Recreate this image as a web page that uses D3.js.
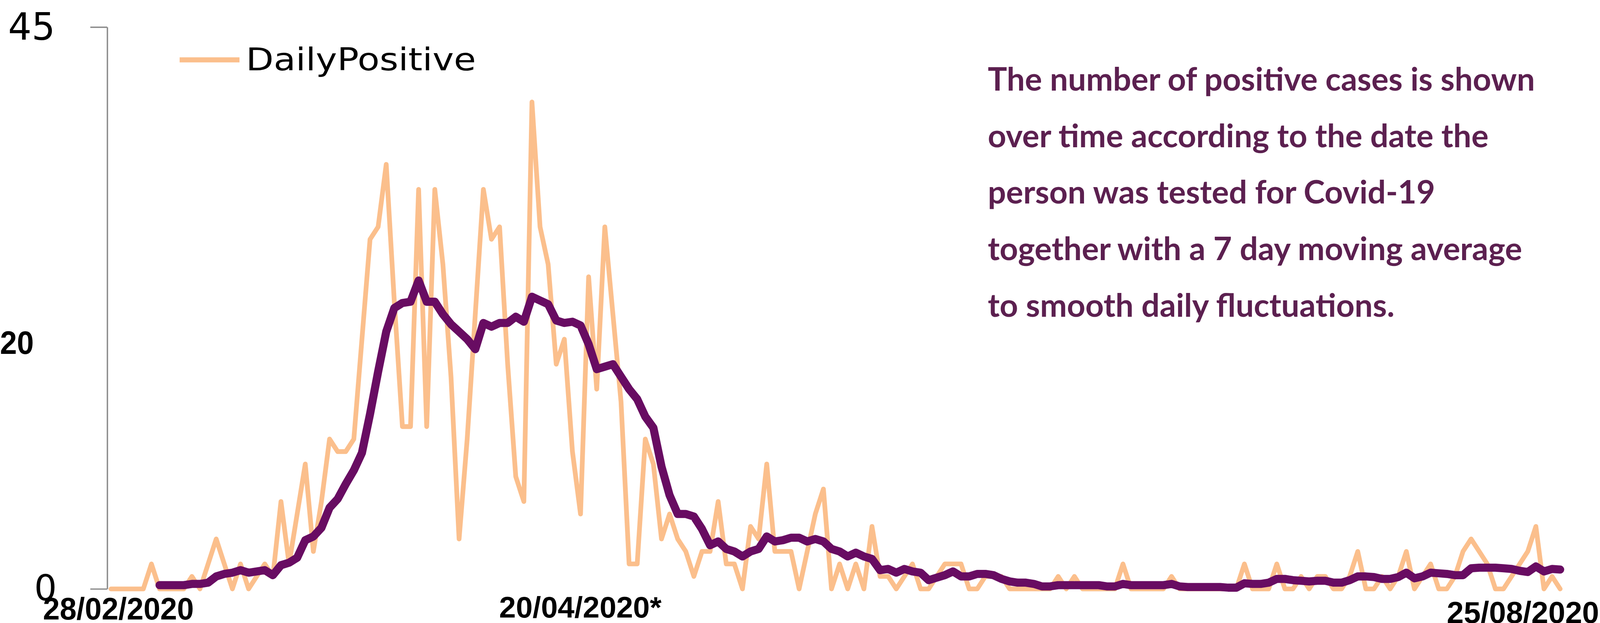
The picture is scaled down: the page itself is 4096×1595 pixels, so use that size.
<!DOCTYPE html>
<html><head><meta charset="utf-8">
<script src="https://cdn.jsdelivr.net/npm/d3@7"></script>
<style>html,body{margin:0;padding:0;background:#fff;overflow:hidden}</style>
</head><body>
<svg id="chart" width="4096" height="1595"></svg>
<script>
// ---- data ----
const startDate = "2020-02-28";
const endDate = "2020-08-25";
const dailyPositive = [
  0,0,0,0,0,2,0,0,0,0,
  1,0,2,4,2,0,2,0,1,2,
  1,7,2,6,10,3,7,12,11,11,
  12,20,28,29,34,23,13,13,32,13,
  32,26,17,4,12,22,32,28,29,18,
  9,7,39,29,26,18,20,11,6,25,
  16,29,22,15,2,2,12,10,4,6,
  4,3,1,3,3,7,2,2,0,5,
  4,10,3,3,3,0,3,6,8,0,
  2,0,2,0,5,1,1,0,1,2,
  0,0,1,2,2,2,0,0,1,1,
  1,0,0,0,0,0,0,1,0,1,
  0,0,0,0,0,2,0,0,0,0,
  0,1,0,0,0,0,0,0,0,0,
  2,0,0,0,2,0,0,1,0,1,
  1,0,0,1,3,0,0,1,0,1,
  3,0,1,2,0,0,1,3,4,3,
  2,0,0,1,2,3,5,0,1,0,
  0
];
const movingAvgStartIndex = 6;
const movingAverage7 = [
  0.3,0.3,0.3,0.3,
  0.4,0.4,0.5,1.0,1.2,1.3,1.5,1.3,1.4,1.5,
  1.1,1.9,2.1,2.5,3.9,4.2,4.9,6.5,7.2,8.4,
  9.5,10.9,14.0,17.4,20.6,22.5,22.9,23.0,24.7,23.0,
  23.0,22.0,21.2,20.6,20.0,19.2,21.3,21.0,21.3,21.3,
  21.8,21.4,23.4,23.1,22.8,21.5,21.3,21.4,21.1,19.6,
  17.6,17.8,18.0,17.0,16.0,15.2,13.8,12.9,9.8,7.5,
  6.0,6.0,5.8,4.8,3.5,3.8,3.2,3.0,2.6,3.0,
  3.2,4.2,3.8,3.9,4.1,4.1,3.8,4.0,3.8,3.2,
  3.0,2.6,2.9,2.6,2.4,1.5,1.6,1.3,1.6,1.4,
  1.3,0.7,0.9,1.1,1.4,1.0,1.0,1.2,1.2,1.1,
  0.8,0.6,0.5,0.5,0.4,0.2,0.2,0.3,0.3,0.3,
  0.3,0.3,0.3,0.2,0.2,0.4,0.3,0.3,0.3,0.3,
  0.3,0.4,0.2,0.15,0.15,0.15,0.15,0.15,0.1,0.1,
  0.45,0.4,0.4,0.5,0.8,0.8,0.7,0.65,0.6,0.65,
  0.65,0.5,0.5,0.7,1.0,1.0,0.95,0.8,0.8,0.95,
  1.3,0.85,1.0,1.3,1.25,1.2,1.1,1.1,1.65,1.7,
  1.7,1.7,1.65,1.6,1.45,1.35,1.8,1.4,1.6,1.55,
  1.5
];
const yTickValues = [0, 45];
const yLabelValues = [45, 20, 0];
const xLabelDates = ["2020-02-28", "2020-04-20", "2020-08-25"];
const xLabelTexts = ["28/02/2020", "20/04/2020*", "25/08/2020"];
const legendLabel = "DailyPositive";
const noteLines = [
  "The number of positive cases is shown",
  "over time according to the date the",
  "person was tested for Covid-19",
  "together with a 7 day moving average",
  "to smooth daily fluctuations."
];

// ---- layout (reference pixel space, scaled to window) ----
const K = 0.866;
const ORANGE = "#FBBF8C", PURPLE = "#680C62", NOTE = "#5C2050", AXIS = "#8a8a8a";
const svg = d3.select("#chart");
svg.append("rect").attr("width", 4096).attr("height", 1595).attr("fill", "#fff");
const g = svg.append("g").attr("transform", `scale(${K})`);

const parse = d3.utcParse("%Y-%m-%d");
const dates = d3.utcDay.range(parse(startDate), d3.utcDay.offset(parse(endDate), 1));
const x = d3.scaleUtc().domain([parse(startDate), parse(endDate)]).range([328, 4612]);
const y = d3.scaleLinear().domain([0, 45]).range([1741, 80]);

// axis
const ax = g.append("g").attr("transform", "translate(317,0)")
  .call(d3.axisLeft(y).tickValues(yTickValues).tickSize(50).tickSizeOuter(0).tickFormat(""));
ax.select(".domain").attr("stroke", AXIS).attr("stroke-width", 4);
ax.selectAll(".tick line").attr("stroke", AXIS).attr("stroke-width", 4);

// y labels (custom styling as in reference)
const yLab = {
  45: {x: 163, anchor: "end", dy: 38, font: "DejaVu Sans", weight: 400, size: 111, len: 139},
  20: {x: 0, anchor: "start", dy: 44, font: "Liberation Sans", weight: 700, size: 97, len: 100},
  0:  {x: 101, anchor: "start", dy: 34, font: "DejaVu Sans", weight: 400, size: 105, len: 67}
};
yLabelValues.forEach(v => {
  const s = yLab[v];
  g.append("text").text(String(v))
    .attr("x", s.x).attr("y", y(v) + s.dy)
    .attr("text-anchor", s.anchor)
    .attr("font-family", s.font).attr("font-weight", s.weight).attr("font-size", s.size)
    .attr("textLength", s.len).attr("lengthAdjust", "spacingAndGlyphs")
    .attr("fill", "#000");
});

// series lines
const orangeLine = d3.line().x((d, i) => x(dates[i])).y(d => y(d)).curve(d3.curveLinear);
g.append("path").datum(dailyPositive).attr("d", orangeLine)
  .attr("fill", "none").attr("stroke", ORANGE).attr("stroke-width", 14)
  .attr("stroke-linejoin", "round").attr("stroke-linecap", "round");

const purpleLine = d3.line().x((d, i) => x(dates[i + movingAvgStartIndex])).y(d => y(d)).curve(d3.curveLinear);
g.append("path").datum(movingAverage7).attr("d", purpleLine)
  .attr("fill", "none").attr("stroke", PURPLE).attr("stroke-width", 24)
  .attr("stroke-linejoin", "round").attr("stroke-linecap", "round");

// x labels
const xLab = [
  {dx: -201, base: 1832, size: 92, len: 446},
  {dx: -97, base: 1826, size: 87, len: 480},
  {dx: -335, base: 1842, size: 89, len: 450}
];
xLabelTexts.forEach((t, i) => {
  const s = xLab[i];
  g.append("text").text(t)
    .attr("x", x(parse(xLabelDates[i])) + s.dx).attr("y", s.base)
    .attr("font-family", "Liberation Sans, Arial, sans-serif").attr("font-weight", 700)
    .attr("font-size", s.size)
    .attr("textLength", s.len).attr("lengthAdjust", "spacingAndGlyphs")
    .attr("fill", "#000");
});

// legend
const lg = g.append("g");
lg.append("line").attr("x1", 531).attr("x2", 708).attr("y1", 177).attr("y2", 177)
  .attr("stroke", ORANGE).attr("stroke-width", 15);
lg.append("text").text(legendLabel).attr("x", 727).attr("y", 208)
  .attr("font-family", "DejaVu Sans").attr("font-size", 93)
  .attr("textLength", 680).attr("lengthAdjust", "spacingAndGlyphs").attr("fill", "#000");

// annotation
const note = g.append("text").attr("font-family", "Lato").attr("font-weight", 700)
  .attr("font-size", 95).attr("fill", NOTE);
noteLines.forEach((t, i) => {
  note.append("tspan").attr("x", 2920).attr("y", 268 + i * 167).text(t);
});
</script>
</body></html>
